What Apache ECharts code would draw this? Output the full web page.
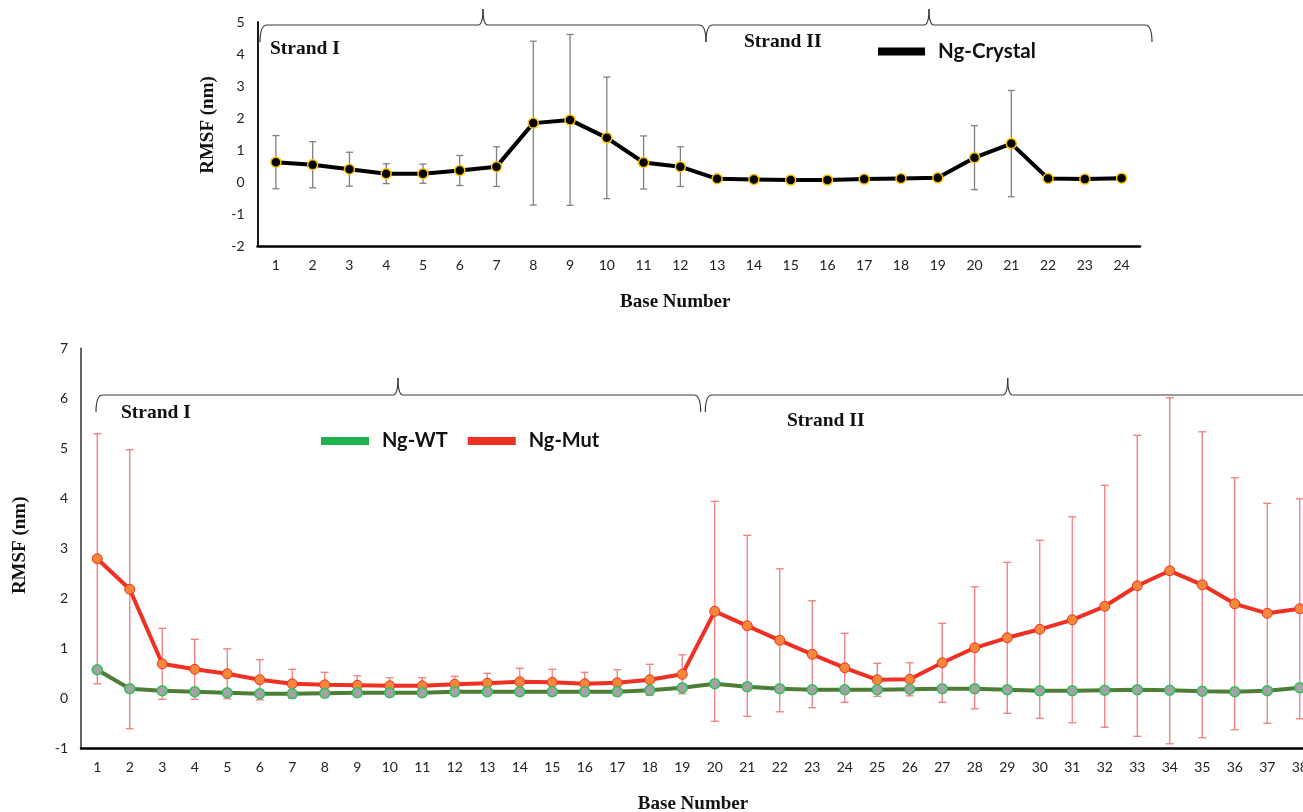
<!DOCTYPE html>
<html><head><meta charset="utf-8">
<script src="https://cdn.jsdelivr.net/npm/echarts@6/dist/echarts.min.js"></script>
<style>html,body{margin:0;padding:0;background:#fff}#c{width:1303px;height:812px}</style>
</head><body><div id="c"></div>
<script>
// ---------- data ----------
const crystalBases = ['1','2','3','4','5','6','7','8','9','10','11','12','13','14','15','16','17','18','19','20','21','22','23','24'];
const crystalRMSF = [0.62,0.54,0.40,0.26,0.26,0.36,0.48,1.84,1.94,1.38,0.61,0.48,0.10,0.08,0.06,0.06,0.09,0.11,0.13,0.76,1.20,0.11,0.09,0.12];
const crystalErr  = [0.83,0.72,0.53,0.31,0.30,0.47,0.62,2.56,2.67,1.90,0.83,0.62,0.03,0.03,0.03,0.03,0.04,0.08,0.08,1.00,1.66,0.03,0.03,0.03];

const ngBases = ['1','2','3','4','5','6','7','8','9','10','11','12','13','14','15','16','17','18','19','20','21','22','23','24','25','26','27','28','29','30','31','32','33','34','35','36','37','38'];
const wtRMSF  = [0.57,0.19,0.15,0.13,0.11,0.09,0.09,0.10,0.11,0.11,0.11,0.13,0.13,0.13,0.13,0.13,0.13,0.16,0.21,0.29,0.23,0.19,0.17,0.17,0.17,0.18,0.19,0.19,0.17,0.15,0.15,0.16,0.17,0.16,0.14,0.13,0.15,0.21];
const wtErr   = [0.02,0.02,0.02,0.02,0.02,0.02,0.02,0.02,0.02,0.02,0.02,0.02,0.02,0.02,0.02,0.02,0.02,0.02,0.02,0.06,0.07,0.02,0.02,0.02,0.02,0.02,0.02,0.02,0.02,0.02,0.02,0.02,0.02,0.02,0.02,0.02,0.02,0.02];
const mutRMSF = [2.79,2.18,0.69,0.58,0.49,0.37,0.29,0.27,0.26,0.25,0.25,0.28,0.30,0.33,0.32,0.29,0.31,0.37,0.48,1.74,1.45,1.16,0.88,0.61,0.37,0.38,0.71,1.01,1.21,1.38,1.57,1.84,2.25,2.55,2.27,1.89,1.70,1.79];
const mutErr  = [2.50,2.79,0.71,0.60,0.50,0.40,0.29,0.25,0.19,0.16,0.16,0.16,0.20,0.27,0.26,0.23,0.26,0.31,0.39,2.20,1.81,1.43,1.07,0.69,0.33,0.33,0.79,1.22,1.51,1.78,2.06,2.42,3.01,3.46,3.06,2.52,2.20,2.20];

const topTicks = {min:-2, max:5, interval:1};
const botTicks = {min:-1, max:7, interval:1};

// ---------- helpers ----------
function errData(vals, errs){ return vals.map((v,i)=>[i, v, errs[i]]); }
function errRenderer(color, cap, lw){
  return function(params, api){
    const x = api.value(0), y = api.value(1), e = api.value(2);
    const hi = api.coord([x, y + e]);
    const lo = api.coord([x, y - e]);
    const st = {stroke: color, lineWidth: lw};
    return {type:'group', children:[
      {type:'line', shape:{x1:hi[0], y1:hi[1], x2:lo[0], y2:lo[1]}, style:st},
      {type:'line', shape:{x1:hi[0]-cap, y1:hi[1], x2:hi[0]+cap, y2:hi[1]}, style:st},
      {type:'line', shape:{x1:lo[0]-cap, y1:lo[1], x2:lo[0]+cap, y2:lo[1]}, style:st}
    ]};
  };
}
const braceStyle = {stroke:'#3a3a3a', lineWidth:1.2, fill:null};
function brace(x0, x1, pk, Y, drop, rise){
  return {type:'group', children:[
    {type:'bezierCurve', shape:{x1:x0, y1:Y+drop, cpx1:x0, cpy1:Y, x2:x0+7, y2:Y}, style:braceStyle},
    {type:'line', shape:{x1:x0+7, y1:Y, x2:pk-5, y2:Y}, style:braceStyle},
    {type:'bezierCurve', shape:{x1:pk-5, y1:Y, cpx1:pk, cpy1:Y, x2:pk, y2:Y-rise}, style:braceStyle},
    {type:'bezierCurve', shape:{x1:pk, y1:Y-rise, cpx1:pk, cpy1:Y, x2:pk+5, y2:Y}, style:braceStyle},
    {type:'line', shape:{x1:pk+5, y1:Y, x2:x1-7, y2:Y}, style:braceStyle},
    {type:'bezierCurve', shape:{x1:x1-7, y1:Y, cpx1:x1, cpy1:Y, x2:x1, y2:Y+drop}, style:braceStyle}
  ]};
}
const serif = '"Liberation Serif","Times New Roman",serif';
const sans = 'Lato, "Open Sans", sans-serif';
const strandText = (x, y, t) => ({type:'text', left:x, top:y, style:{text:t, font:'bold 19.5px ' + serif, fill:'#111'}});

function xAxisCfg(cats, gridIndex, nameGap, padRight){
  return {
    type:'category', gridIndex, data:cats, boundaryGap:true,
    axisLine:{show:true, onZero:false, lineStyle:{color:'#000', width:2.5}},
    axisTick:{show:false},
    axisLabel:{color:'#222', fontSize:14, fontFamily:sans, margin:12},
    name:'Base Number', nameLocation:'middle', nameGap,
    nameTextStyle:{fontFamily:serif, fontWeight:'bold', fontSize:19, color:'#111', padding:[0,padRight,0,0]},
    splitLine:{show:false}
  };
}
function yAxisCfg(t, gridIndex, nameGap, padLeft, lineColor){
  return {
    type:'value', gridIndex, min:t.min, max:t.max, interval:t.interval,
    axisLine:{show:true, onZero:false, lineStyle:{color:lineColor, width:1.8}},
    axisTick:{show:false},
    splitLine:{show:false},
    axisLabel:{color:'#222', fontSize:14, fontFamily:sans, margin:13},
    name:'RMSF (nm)', nameLocation:'middle', nameRotate:90, nameGap,
    nameTextStyle:{fontFamily:serif, fontWeight:'bold', fontSize:19, color:'#111', padding:[0,0,0,padLeft]}
  };
}

const chart = echarts.init(document.getElementById('c'), null, {renderer:'canvas'});
chart.setOption({
  animation:false,
  backgroundColor:'#fff',
  grid:[
    {left:257.5, top:22, width:882.5, height:224, containLabel:false, outerBoundsMode:'none'},
    {left:81, top:348.3, width:1235, height:400, containLabel:false, outerBoundsMode:'none'}
  ],
  xAxis:[ xAxisCfg(crystalBases, 0, 47, 47), xAxisCfg(ngBases, 1, 46, 11) ],
  yAxis:[ yAxisCfg(topTicks, 0, 40, 18, '#000'), yAxisCfg(botTicks, 1, 51, 6, '#555') ],
  legend:[
    {left:878, top:41, padding:0, icon:'rect', itemWidth:47, itemHeight:8, itemGap:21,
     data:[{name:'Ng-Crystal', itemStyle:{color:'#000', borderWidth:0}}],
     textStyle:{fontFamily:sans, fontWeight:'bold', fontSize:20.5, color:'#111', padding:[0,0,0,8]}},
    {left:321, top:431, padding:0, icon:'rect', itemWidth:48, itemHeight:8, itemGap:20,
     data:[{name:'Ng-WT', itemStyle:{color:'#20B14F', borderWidth:0}}, {name:'Ng-Mut', itemStyle:{color:'#EE3124', borderWidth:0}}],
     textStyle:{fontFamily:sans, fontWeight:'bold', fontSize:20, color:'#111', padding:[0,0,0,8]}}
  ],
  series:[
    {type:'custom', name:'crystal-err', xAxisIndex:0, yAxisIndex:0, z:1,
     renderItem: errRenderer('#808080', 3.5, 1.3), encode:{x:0, y:1},
     data: errData(crystalRMSF, crystalErr)},
    {type:'line', name:'Ng-Crystal', xAxisIndex:0, yAxisIndex:0, z:3, data:crystalRMSF,
     symbol:'circle', symbolSize:10,
     lineStyle:{color:'#000', width:4},
     itemStyle:{color:'#000', borderColor:'#FFC000', borderWidth:1.5}},

    {type:'custom', name:'mut-err', xAxisIndex:1, yAxisIndex:1, z:1,
     renderItem: errRenderer('#F47C7C', 4, 1.3), encode:{x:0, y:1},
     data: errData(mutRMSF, mutErr)},
    {type:'custom', name:'wt-err', xAxisIndex:1, yAxisIndex:1, z:1,
     renderItem: errRenderer('#7f7f7f', 4, 1.3), encode:{x:0, y:1},
     data: errData(wtRMSF, wtErr)},
    {type:'line', name:'Ng-Mut', xAxisIndex:1, yAxisIndex:1, z:3, data:mutRMSF,
     symbol:'circle', symbolSize:10,
     lineStyle:{color:'#EE3124', width:4},
     itemStyle:{color:'#F5873A', borderColor:'#EE3124', borderWidth:1}},
    {type:'line', name:'Ng-WT', xAxisIndex:1, yAxisIndex:1, z:4, data:wtRMSF,
     symbol:'circle', symbolSize:10,
     lineStyle:{color:'#4E7D36', width:4},
     itemStyle:{color:'#A3A3A3', borderColor:'#2CC05E', borderWidth:1.5}}
  ],
  graphic:[
    brace(260, 706, 483, 25, 17, 16),
    brace(706, 1152, 929, 25, 17, 16),
    brace(96, 700.7, 398, 395, 17, 17),
    brace(705.3, 1310, 1007.7, 395, 17, 17),
    strandText(270, 39, 'Strand I'),
    strandText(744, 32, 'Strand II'),
    strandText(121, 403, 'Strand I'),
    strandText(787, 411, 'Strand II')
  ]
});
</script>
</body></html>
